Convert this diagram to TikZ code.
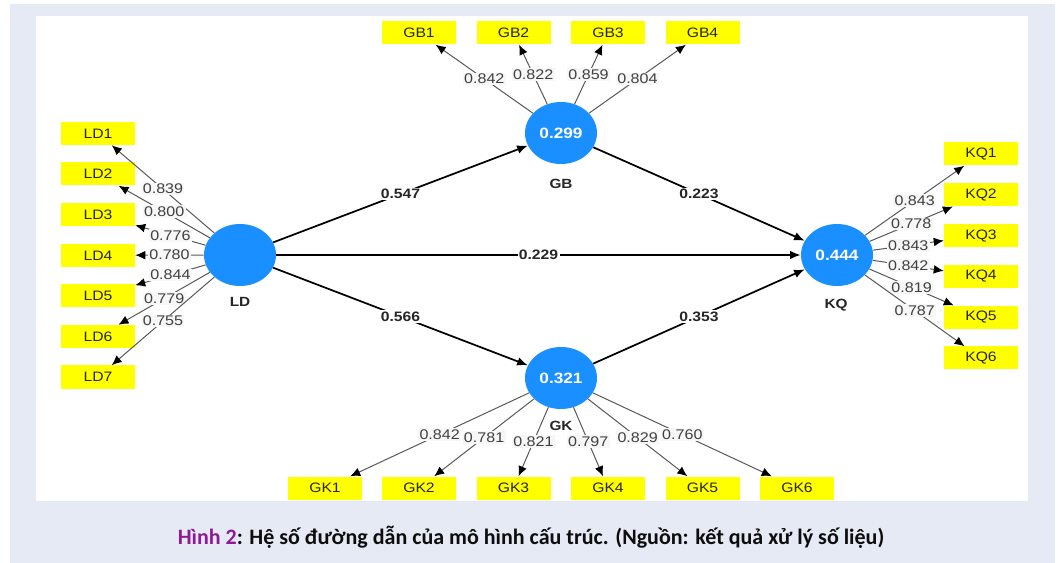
\documentclass[tikz,border=0pt]{standalone}
\usepackage{fontspec}
\setmainfont{Liberation Sans}
\newfontfamily\plsfont[FakeStretch=1.15]{Liberation Sans}
\newfontfamily\capfont{Carlito}
\usetikzlibrary{arrows.meta,shapes.geometric}
\definecolor{plsblue}{HTML}{1A8FFF}
\definecolor{plsyellow}{HTML}{FFFF00}
\definecolor{pagebg}{HTML}{E6EAF5}
\definecolor{capviolet}{HTML}{8E1B96}
\tikzset{
  latent/.style={ellipse, fill=plsblue, minimum width=54pt, minimum height=46.5pt, inner sep=0pt, text=white, font=\plsfont\bfseries\fontsize{11.25}{12}\selectfont},
  ind/.style={rectangle, fill=plsyellow, minimum width=55.5pt, minimum height=17.25pt, inner sep=0pt, text=black!85, font=\plsfont\fontsize{10.25}{11}\selectfont},
  lvname/.style={text=black!85, font=\plsfont\bfseries\fontsize{10}{11}\selectfont},
  load/.style={draw=black!65, line width=0.75pt, -{Latex[length=7.5pt,width=6.5pt,color=black]}},
  loadval/.style={fill=black!3, inner sep=1pt, text=black!75, font=\plsfont\fontsize{10.5}{11}\selectfont},
  structural/.style={draw=black, line width=1.3pt, -{Latex[length=8pt,width=6.5pt]}},
  pathval/.style={fill=white, inner sep=1pt, text=black!85, font=\plsfont\bfseries\fontsize{10.25}{11}\selectfont}
}
\begin{document}
\begin{tikzpicture}[x=0.75pt,y=-0.75pt]
\useasboundingbox (0,0) rectangle (1058,563);
\fill [white] (0,0) rectangle (1058,563);
\fill [pagebg] (10,4) rectangle (1055,563);
\fill [white] (36,16) rectangle (1028,501);
\node [latent] (LD) at (240,255) {};
\node [latent] (GB) at (561,133) {0.299};
\node [latent] (KQ) at (837,255) {0.444};
\node [latent] (GK) at (561,378) {0.321};
\node [lvname] (LDname) at (240,302) {LD};
\node [lvname] (GBname) at (561,184) {GB};
\node [lvname] (KQname) at (836,305) {KQ};
\node [lvname] (GKname) at (561,426) {GK};
\node [ind] (LD1) at (98,133.5) {LD1};
\node [ind] (LD2) at (98,174) {LD2};
\node [ind] (LD3) at (98,214.7) {LD3};
\node [ind] (LD4) at (98,255.3) {LD4};
\node [ind] (LD5) at (98,296) {LD5};
\node [ind] (LD6) at (98,336.5) {LD6};
\node [ind] (LD7) at (98,377) {LD7};
\node [ind] (GB1) at (419,33) {GB1};
\node [ind] (GB2) at (513.5,33) {GB2};
\node [ind] (GB3) at (608,33) {GB3};
\node [ind] (GB4) at (702.5,33) {GB4};
\node [ind] (KQ1) at (981,154) {KQ1};
\node [ind] (KQ2) at (981,194.8) {KQ2};
\node [ind] (KQ3) at (981,235.6) {KQ3};
\node [ind] (KQ4) at (981,276.4) {KQ4};
\node [ind] (KQ5) at (981,317.2) {KQ5};
\node [ind] (KQ6) at (981,358) {KQ6};
\node [ind] (GK1) at (325,488) {GK1};
\node [ind] (GK2) at (419,488) {GK2};
\node [ind] (GK3) at (513.5,488) {GK3};
\node [ind] (GK4) at (608,488) {GK4};
\node [ind] (GK5) at (702.5,488) {GK5};
\node [ind] (GK6) at (797,488) {GK6};
\draw [load] (LD) -- node [loadval] {0.839} (LD1);
\draw [load] (LD) -- node [loadval] {0.800} (LD2);
\draw [load] (LD) -- node [loadval] {0.776} (LD3);
\draw [load] (LD) -- node [loadval] {0.780} (LD4);
\draw [load] (LD) -- node [loadval] {0.844} (LD5);
\draw [load] (LD) -- node [loadval] {0.779} (LD6);
\draw [load] (LD) -- node [loadval] {0.755} (LD7);
\draw [load] (GB) -- node [loadval] {0.842} (GB1);
\draw [load] (GB) -- node [loadval] {0.822} (GB2);
\draw [load] (GB) -- node [loadval] {0.859} (GB3);
\draw [load] (GB) -- node [loadval] {0.804} (GB4);
\draw [load] (KQ) -- node [loadval] {0.843} (KQ1);
\draw [load] (KQ) -- node [loadval] {0.778} (KQ2);
\draw [load] (KQ) -- node [loadval] {0.843} (KQ3);
\draw [load] (KQ) -- node [loadval] {0.842} (KQ4);
\draw [load] (KQ) -- node [loadval] {0.819} (KQ5);
\draw [load] (KQ) -- node [loadval] {0.787} (KQ6);
\draw [load] (GK) -- node [loadval] {0.842} (GK1);
\draw [load] (GK) -- node [loadval] {0.781} (GK2);
\draw [load] (GK) -- node [loadval] {0.821} (GK3);
\draw [load] (GK) -- node [loadval] {0.797} (GK4);
\draw [load] (GK) -- node [loadval] {0.829} (GK5);
\draw [load] (GK) -- node [loadval] {0.760} (GK6);
\draw [structural] (LD) -- node [pathval] {0.547} (GB);
\draw [structural] (LD) -- node [pathval] {0.229} (KQ);
\draw [structural] (LD) -- node [pathval] {0.566} (GK);
\draw [structural] (GB) -- node [pathval] {0.223} (KQ);
\draw [structural] (GK) -- node [pathval] {0.353} (KQ);
\node [font=\capfont\bfseries\fontsize{16.5}{18}\selectfont, text=black!95] (caption) at (531,537) {{\color{capviolet}Hình 2}: Hệ số đường dẫn của mô hình cấu trúc. (Nguồn: kết quả xử lý số liệu)};
\end{tikzpicture}
\end{document}
